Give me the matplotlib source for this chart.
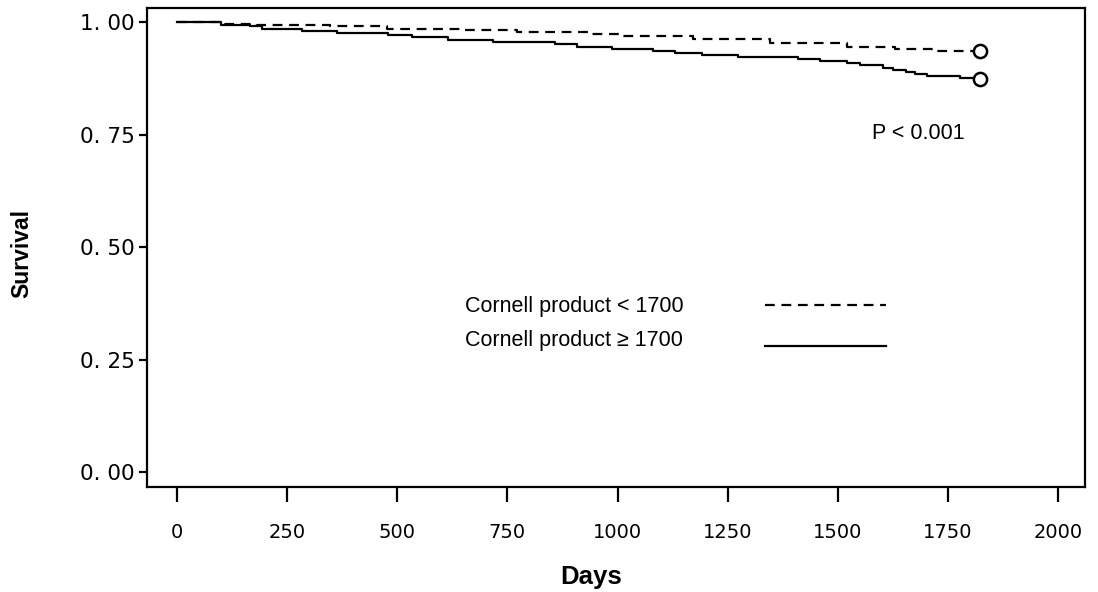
import numpy as np
import matplotlib
matplotlib.use("Agg")
import matplotlib.pyplot as plt

# Kaplan-Meier steps (days, survival)
low_days = [0, 99, 181, 347, 476, 654, 771, 933, 1009, 1172, 1346, 1520, 1630, 1725, 1823]
low_surv = [1.000, 0.997, 0.994, 0.991, 0.986, 0.982, 0.978, 0.973, 0.969, 0.962, 0.953,
            0.945, 0.940, 0.936, 0.936]

high_days = [0, 99, 166, 192, 283, 362, 480, 533, 616, 718, 858, 907, 987, 1081, 1131,
             1191, 1274, 1410, 1460, 1520, 1550, 1603, 1626, 1656, 1675, 1702, 1778, 1823]
high_surv = [1.000, 0.994, 0.991, 0.986, 0.980, 0.976, 0.971, 0.967, 0.960, 0.955, 0.951,
             0.945, 0.940, 0.936, 0.931, 0.927, 0.922, 0.918, 0.914, 0.910, 0.904, 0.899,
             0.895, 0.890, 0.884, 0.880, 0.877, 0.874]

x_ticks = [0, 250, 500, 750, 1000, 1250, 1500, 1750, 2000]
y_ticks = [0.0, 0.25, 0.5, 0.75, 1.0]
y_labels = ["0. 00", "0. 25", "0. 50", "0. 75", "1. 00"]

legend_labels = ["Cornell product < 1700", "Cornell product \u2265 1700"]
p_text = "P < 0.001"

plt.rcParams["font.family"] = ["Liberation Sans", "DejaVu Sans"]

fig = plt.figure(figsize=(10.98, 5.92), dpi=100)
ax = fig.add_axes([0.134, 0.177, 0.854, 0.809])

lw = 1.6
dash = (0, (4.4, 3))
ax.step(low_days, low_surv, where="post", color="black", lw=lw, ls=dash)
ax.step(high_days, high_surv, where="post", color="black", lw=lw)
# censor marks at the end of follow-up
ax.plot(low_days[-1], low_surv[-1], "o", mfc="white", mec="black", ms=9.5, mew=1.8)
ax.plot(high_days[-1], high_surv[-1], "o", mfc="white", mec="black", ms=9.5, mew=1.8)

# hand drawn legend inside the plot
ax.text(654, 0.369, legend_labels[0], fontsize=15.5, va="center", ha="left")
ax.text(654, 0.293, legend_labels[1], fontsize=15.5, va="center", ha="left")
ax.plot([1335, 1610], [0.371, 0.371], color="black", lw=lw, ls=dash)
ax.plot([1335, 1610], [0.280, 0.280], color="black", lw=lw)

ax.text(1682, 0.753, p_text, fontsize=15.5, ha="center", va="center")

ax.set_xlim(-68, 2061)
ax.set_ylim(-0.033, 1.031)
ax.set_xticks(x_ticks)
ax.set_xticklabels([str(v) for v in x_ticks], family="DejaVu Sans", fontsize=14)
ax.set_yticks(y_ticks)
ax.set_yticklabels(y_labels, family="DejaVu Sans", fontsize=15.5)
ax.tick_params(axis="x", length=11, width=1.6, pad=15, direction="out")
ax.tick_params(axis="y", length=6, width=1.6, pad=3, direction="out")
for s in ax.spines.values():
    s.set_linewidth(1.6)

fig.text(0.020, 0.572, "Survival", rotation=90, fontsize=16.5, fontweight="bold",
         ha="center", va="center")
fig.text(0.538, 0.025, "Days", fontsize=18.5, fontweight="bold", ha="center", va="center")

fig.savefig("out.png", dpi=100)
